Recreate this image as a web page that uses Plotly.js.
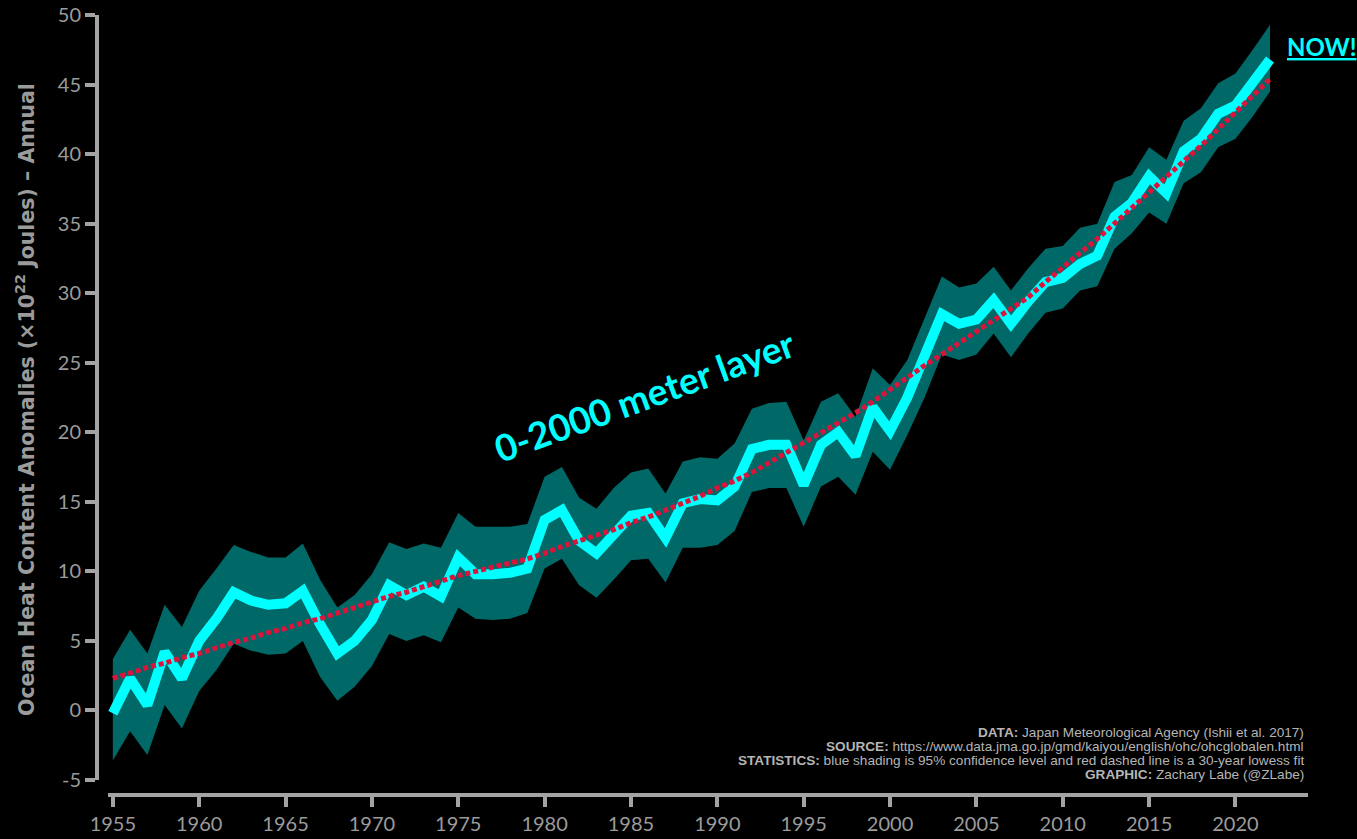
<!DOCTYPE html>
<html>
<head>
<meta charset="utf-8">
<script src="https://cdn.plot.ly/plotly-3.0.1.min.js"></script>
<style>html,body{margin:0;padding:0;background:#000;}#chart{width:1357px;height:839px;}</style>
</head>
<body>
<div id="chart"></div>
<script>
const years = [1955,1956,1957,1958,1959,1960,1961,1962,1963,1964,1965,1966,1967,1968,1969,1970,1971,1972,1973,1974,1975,1976,1977,1978,1979,1980,1981,1982,1983,1984,1985,1986,1987,1988,1989,1990,1991,1992,1993,1994,1995,1996,1997,1998,1999,2000,2001,2002,2003,2004,2005,2006,2007,2008,2009,2010,2011,2012,2013,2014,2015,2016,2017,2018,2019,2020,2021,2022];

const ohcMean = [-0.2,2.3,0.4,4.2,2.3,5.0,6.6,8.5,7.9,7.6,7.7,8.6,6.2,4.1,5.0,6.5,9.0,8.3,8.9,8.2,11.0,9.8,9.8,9.9,10.2,13.7,14.4,12.2,11.3,12.6,14.0,14.2,12.4,14.9,15.2,15.1,16.1,18.8,19.1,19.1,16.2,19.1,20.0,18.3,21.8,20.1,22.5,25.5,28.5,27.8,28.1,29.5,27.8,29.4,30.8,31.1,32.1,32.7,35.5,36.5,38.4,37.2,40.2,41.1,42.9,43.5,45.1,46.8];

const ohcUpper = [3.7,5.8,4.1,7.6,6.0,8.6,10.2,11.9,11.4,11.0,11.0,12.0,9.4,7.4,8.3,9.8,12.1,11.6,12.0,11.7,14.2,13.2,13.2,13.2,13.4,16.8,17.5,15.3,14.5,16.0,17.1,17.4,15.6,17.9,18.2,18.1,19.2,21.7,22.1,22.2,19.4,22.2,22.8,21.1,24.6,23.4,25.2,28.2,31.2,30.4,30.7,31.9,30.2,31.8,33.2,33.4,34.7,35.0,38.0,38.5,40.5,39.6,42.4,43.3,45.1,45.8,47.5,49.3];

const ohcLower = [-3.6,-1.5,-3.2,0.4,-1.3,1.4,2.9,4.8,4.3,4.0,4.1,5.0,2.4,0.7,1.7,3.2,5.5,5.0,5.4,4.9,7.4,6.6,6.5,6.6,7.0,10.2,10.9,9.0,8.1,9.4,10.8,10.9,9.2,11.7,11.7,11.9,12.9,15.7,16.0,16.0,13.2,16.1,16.8,15.5,18.6,17.3,19.8,22.5,25.6,25.2,25.6,27.1,25.4,27.1,28.6,28.9,30.2,30.5,33.2,34.3,35.8,35.0,37.9,38.7,40.5,41.1,42.7,44.5];

const ohcLowess = [2.3,2.7,3.1,3.4,3.8,4.1,4.5,4.9,5.2,5.6,5.9,6.3,6.6,7.0,7.4,7.8,8.2,8.5,8.9,9.3,9.7,10.0,10.3,10.6,10.9,11.3,11.8,12.2,12.6,13.0,13.5,13.9,14.4,14.9,15.4,16.0,16.5,17.1,17.8,18.5,19.2,19.9,20.6,21.4,22.2,23.1,23.9,24.8,25.6,26.4,27.2,28.0,28.8,29.7,30.8,31.9,32.9,33.9,35.0,36.1,37.2,38.3,39.5,40.6,41.8,43.0,44.2,45.4];

const xTickVals = [1955,1960,1965,1970,1975,1980,1985,1990,1995,2000,2005,2010,2015,2020];
const xTickText = ["1955","1960","1965","1970","1975","1980","1985","1990","1995","2000","2005","2010","2015","2020"];
const yTickVals = [-5,0,5,10,15,20,25,30,35,40,45,50];
const yTickText = ["-5","0","5","10","15","20","25","30","35","40","45","50"];

const W = 1357, H = 839;
const gray = '#a3a3a3';
const tickGray = '#9b9b9b';
const creditFont = {size: 13.6, color: '#b5b5b5', family: '"Liberation Sans Narrow", "Liberation Sans", sans-serif'};

const traces = [
  {x: years, y: ohcLower, type: 'scatter', mode: 'lines', line: {width: 0, color: 'rgba(0,0,0,0)'}, hoverinfo: 'skip', showlegend: false},
  {x: years, y: ohcUpper, type: 'scatter', mode: 'lines', fill: 'tonexty', fillcolor: 'rgb(0,104,102)', line: {width: 0, color: 'rgba(0,0,0,0)'}, hoverinfo: 'skip', showlegend: false},
  {x: years, y: ohcMean, type: 'scatter', mode: 'lines', line: {color: '#00ffff', width: 10}, showlegend: false},
  {x: years, y: ohcLowess, type: 'scatter', mode: 'lines', line: {color: '#dc143c', width: 5, dash: '5px,3px'}, showlegend: false}
];

const layout = {
  width: W, height: H,
  paper_bgcolor: '#000', plot_bgcolor: '#000',
  margin: {l: 0, r: 0, t: 0, b: 0},
  showlegend: false,
  font: {family: 'Lato, "DejaVu Sans", sans-serif', color: tickGray},
  xaxis: {
    domain: [108 / W, 1308 / W],
    range: [1954.72, 2024.2],
    anchor: 'free', position: 1 - 795 / H,
    showline: true, linecolor: gray, linewidth: 4,
    ticks: 'outside', ticklen: 10, tickwidth: 4, tickcolor: gray,
    tickvals: xTickVals, ticktext: xTickText,
    tickfont: {size: 20, color: tickGray, family: 'Lato, sans-serif'},
    showgrid: false, zeroline: false, fixedrange: true
  },
  yaxis: {
    domain: [1 - 780 / H, 1 - 15 / H],
    range: [-5, 50],
    anchor: 'free', position: 97 / W,
    showline: true, linecolor: gray, linewidth: 4,
    ticks: 'outside', ticklen: 10, tickwidth: 4, tickcolor: gray,
    tickvals: yTickVals, ticktext: yTickText,
    tickfont: {size: 20, color: tickGray, family: 'Lato, sans-serif'},
    showgrid: false, zeroline: false, fixedrange: true
  },
  annotations: [
    {xref: 'paper', yref: 'paper', x: 25 / W, y: 1 - 400 / H, xanchor: 'center', yanchor: 'middle', showarrow: false, textangle: -90,
     text: 'Ocean Heat Content Anomalies (×10<sup>22</sup> Joules) – Annual',
     font: {size: 20.5, color: tickGray, family: '"DejaVu Sans", sans-serif', weight: 'bold'}},
    {xref: 'paper', yref: 'paper', x: 644 / W, y: 1 - 395 / H, xanchor: 'center', yanchor: 'middle', showarrow: false, textangle: -20,
     text: '0-2000 meter layer',
     font: {size: 37, color: '#00ffff', family: 'Lato, "DejaVu Sans", sans-serif', weight: 'bold'}},
    {xref: 'paper', yref: 'paper', x: 1285 / W, y: 1 - 47 / H, xanchor: 'left', yanchor: 'middle', showarrow: false,
     text: '<span style="text-decoration:underline">NOW!</span>',
     font: {size: 24, color: '#00ffff', family: 'Lato, "DejaVu Sans", sans-serif', weight: 'bold'}},
    {xref: 'paper', yref: 'paper', x: 1306 / W, y: 1 - 732 / H, xanchor: 'right', yanchor: 'middle', showarrow: false,
     text: '<b>DATA:</b> Japan Meteorological Agency (Ishii et al. 2017)', font: creditFont},
    {xref: 'paper', yref: 'paper', x: 1306 / W, y: 1 - 746 / H, xanchor: 'right', yanchor: 'middle', showarrow: false,
     text: '<b>SOURCE:</b> https://www.data.jma.go.jp/gmd/kaiyou/english/ohc/ohcglobalen.html', font: creditFont},
    {xref: 'paper', yref: 'paper', x: 1306 / W, y: 1 - 760 / H, xanchor: 'right', yanchor: 'middle', showarrow: false,
     text: '<b>STATISTICS:</b> blue shading is 95% confidence level and red dashed line is a 30-year lowess fit', font: creditFont},
    {xref: 'paper', yref: 'paper', x: 1306 / W, y: 1 - 774 / H, xanchor: 'right', yanchor: 'middle', showarrow: false,
     text: '<b>GRAPHIC:</b> Zachary Labe (@ZLabe)', font: creditFont}
  ]
};

Plotly.newPlot('chart', traces, layout, {displayModeBar: false, staticPlot: true});
</script>
</body>
</html>
